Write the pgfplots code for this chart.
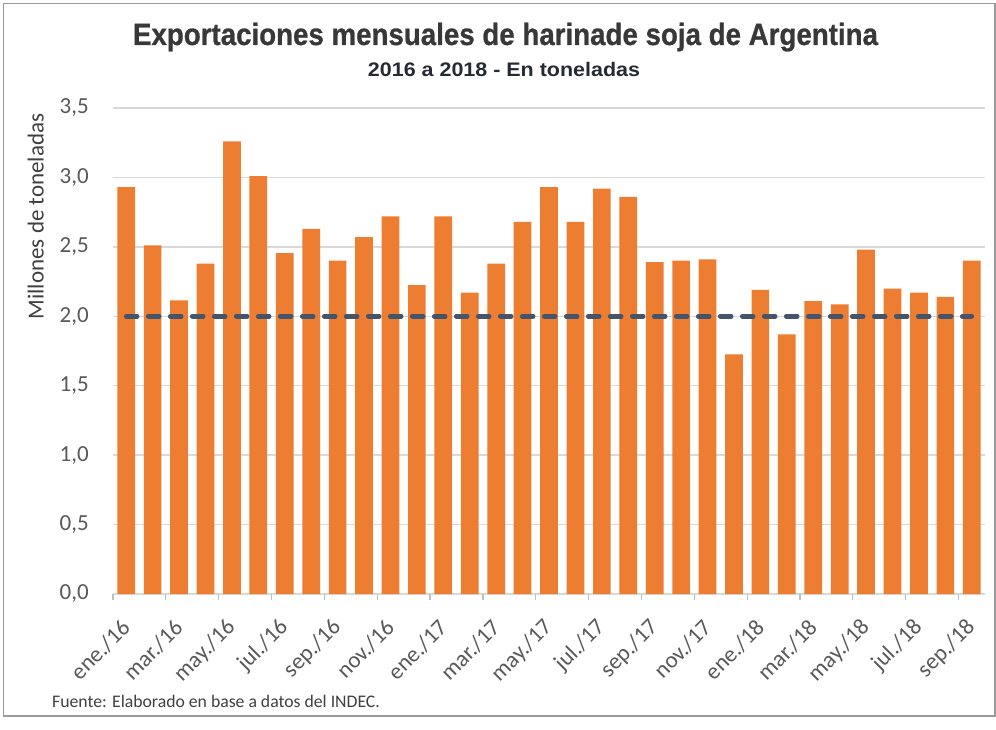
\documentclass[border=0pt]{standalone}
\usepackage{pgfplots}
\pgfplotsset{compat=1.18}
\usepackage{fontspec}
\usepackage{graphicx}
\setmainfont{Carlito}
\newfontfamily\titlefont{Liberation Sans}[FakeBold=0.8]
\newfontfamily\subfont{Liberation Sans}
\definecolor{barorange}{HTML}{ED7D31}
\definecolor{gridgray}{HTML}{D9D9D9}
\definecolor{tickgray}{HTML}{BFBFBF}
\definecolor{labgray}{HTML}{595959}
\definecolor{ylabgray}{HTML}{404040}
\definecolor{dashblue}{HTML}{44546A}
\definecolor{titlegray}{HTML}{383838}
\definecolor{subgray}{HTML}{262B33}
\definecolor{framegray}{HTML}{9A9A9A}
\begin{document}
\begin{tikzpicture}[x=1pt,y=1pt]
\useasboundingbox (0,0) rectangle (996,729);
\fill[white] (0,0) rectangle (996,729);
\draw[framegray, line width=1.5pt] (3.5,13) rectangle (995,725.5);
\begin{axis}[
  at={(113pt,135pt)}, anchor=south west, scale only axis,
  width=872pt, height=486pt,
  xmin=-0.5, xmax=32.5, ymin=0, ymax=3.5,
  axis line style={draw=none},
  ytick={0,0.5,1,1.5,2,2.5,3,3.5},
  ymajorgrids, grid style={gridgray, line width=1.5pt},
  xtick={0,2,...,32},
  xticklabels={ene./16,mar./16,may./16,jul./16,sep./16,nov./16,ene./17,mar./17,may./17,jul./17,sep./17,nov./17,ene./18,mar./18,may./18,jul./18,sep./18},
  minor xtick={-0.5,1.5,...,32.5},
  major tick length=0pt, minor tick length=6pt, tick align=outside,
  minor tick style={tickgray, line width=1.2pt},
  xtick pos=left, ytick pos=left,
  ticklabel style={font=\fontsize{23}{27}\selectfont, text=labgray},
  xticklabel style={xshift=0pt, yshift=-30pt, rotate=45, anchor=east, inner sep=0pt},
  yticklabel style={inner sep=0pt, xshift=-24pt, /pgf/number format/fixed, /pgf/number format/fixed zerofill, /pgf/number format/precision=1, /pgf/number format/use comma, /pgf/number format/assume math mode=true},
  clip=false,
]
\addplot[ybar, bar width=17.7pt, fill=barorange, draw=none] coordinates {
(0,2.93) (1,2.51) (2,2.115) (3,2.38) (4,3.26) (5,3.01) (6,2.455) (7,2.63) (8,2.40) (9,2.57) (10,2.72) (11,2.225)
(12,2.72) (13,2.17) (14,2.38) (15,2.68) (16,2.93) (17,2.68) (18,2.92) (19,2.86) (20,2.39) (21,2.40) (22,2.41) (23,1.725)
(24,2.19) (25,1.87) (26,2.11) (27,2.086) (28,2.48) (29,2.20) (30,2.17) (31,2.14) (32,2.40)
};
\addplot[dashblue, line width=4.5pt, line cap=round, dash pattern=on 11pt off 11pt, forget plot] coordinates {(0,2) (32,2)};
\end{axis}
\node[anchor=base, inner sep=0pt, text=titlegray] at (505.5,684) {\resizebox{745pt}{\height}{\titlefont\bfseries\fontsize{30.7}{34}\selectfont Exportaciones mensuales de harinade soja de Argentina}};
\node[anchor=base, inner sep=0pt, text=subgray] at (504,652) {\resizebox{272pt}{\height}{\subfont\bfseries\fontsize{19.6}{22}\selectfont 2016 a 2018 - En toneladas}};
\node[anchor=base, inner sep=0pt, rotate=90, text=ylabgray, font=\fontsize{23}{27}\selectfont] at (43.5,512.5) {Millones de toneladas};
\node[anchor=base west, inner sep=0pt, text=ylabgray, font=\fontsize{17.7}{20}\selectfont] at (52,22) {Fuente: Elaborado en base a datos del INDEC.};
\end{tikzpicture}
\end{document}
